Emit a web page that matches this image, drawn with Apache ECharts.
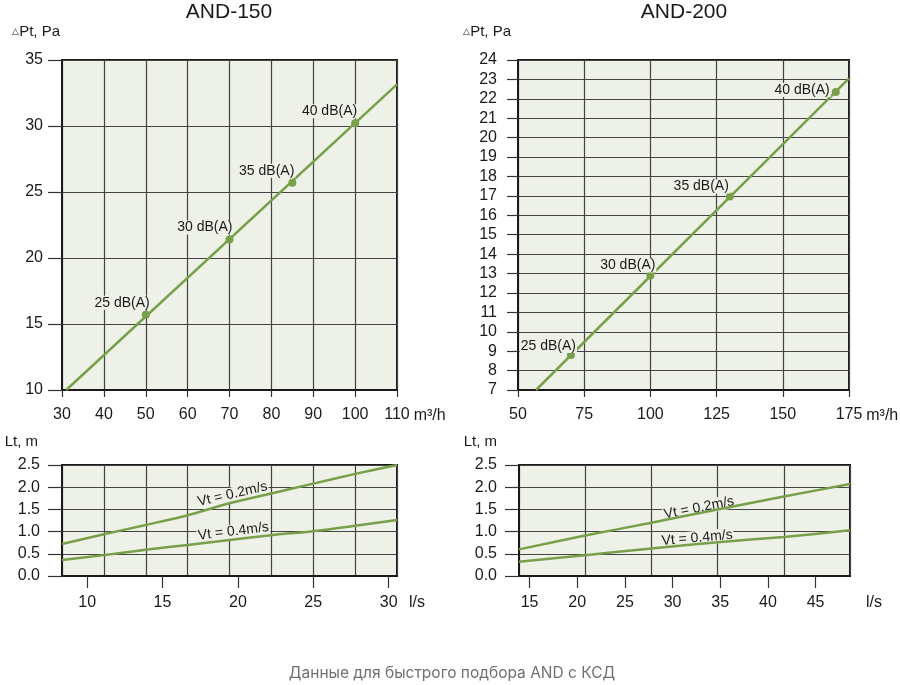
<!DOCTYPE html>
<html>
<head>
<meta charset="utf-8">
<script src="https://cdn.jsdelivr.net/npm/echarts@6/dist/echarts.min.js"></script>
<style>
	html, body { margin: 0; padding: 0; background: #fff; }
	#main { width: 900px; height: 685px; }
</style>
</head>
<body>
<div id="main"></div>
<script>
	// AND-150: pressure drop vs air flow (m3/h)
	var and150LineX = [31, 110];
	var and150LineY = [10, 33.15];
	var and150PointX = [50, 70, 85, 100];
	var and150PointY = [15.7, 21.4, 25.7, 30.2];

	// AND-200: pressure drop vs air flow (m3/h)
	var and200LineX = [56.8, 175];
	var and200LineY = [7, 23.05];
	var and200PointX = [70, 100, 130, 170];
	var and200PointY = [8.8, 12.9, 16.97, 22.35];

	var noiseLabels = ['25 dB(A)', '30 dB(A)', '35 dB(A)', '40 dB(A)'];

	// throw length Lt (m) vs flow (l/s)
	var and150Flow = [8.33, 11.11, 13.89, 16.67, 19.44, 22.22, 25, 27.78, 30.56];
	var and150Vt02 = [0.72, 0.94, 1.15, 1.37, 1.64, 1.86, 2.08, 2.30, 2.5];
	var and150Vt04 = [0.36, 0.47, 0.59, 0.70, 0.81, 0.92, 1.01, 1.13, 1.26];

	var and200Flow = [13.89, 20.83, 27.78, 34.72, 41.67, 48.61];
	var and200Vt02 = [0.60, 0.91, 1.20, 1.50, 1.79, 2.07];
	var and200Vt04 = [0.32, 0.47, 0.62, 0.76, 0.88, 1.03];

	var vtLabels = ['Vt = 0.2m/s', 'Vt = 0.4m/s'];

	// tick labels
	var and150LsTicks = [10, 15, 20, 25, 30];
	var and200LsTicks = [15, 20, 25, 30, 35, 40, 45];

	var GREEN = '#78a04a';
	var BG = '#eef1e7';
	var INK = '#1a1a1a';
	var FONT = '"Liberation Sans", Arial, sans-serif';

	function pairs(xs, ys) {
		var out = [];
		for (var i = 0; i < xs.length; i++) {
			out.push([xs[i], ys[i]]);
		}
		return out;
	}

	function grid(left, top, width, height) {
		return {
			left: left, top: top, width: width, height: height,
			show: true,
			backgroundColor: BG,
			borderColor: INK,
			borderWidth: 2
		};
	}

	function flowAxis(gridIndex, min, max, interval, nameGap) {
		return {
			type: 'value',
			gridIndex: gridIndex,
			min: min, max: max, interval: interval,
			name: 'm³/h',
			nameLocation: 'end',
			nameGap: nameGap,
			nameTextStyle: { color: INK, fontSize: 16, fontFamily: FONT, verticalAlign: 'top', padding: [18, 0, 0, 0] },
			axisLine: { lineStyle: { color: INK, width: 2 } },
			axisTick: { length: 7, lineStyle: { color: '#333', width: 1.2 } },
			axisLabel: { color: INK, fontSize: 16, fontFamily: FONT, margin: 17 },
			splitLine: { show: true, lineStyle: { color: '#444', width: 1.2 } }
		};
	}

	// m3/h grid lines behind the l/s charts
	function hiddenFlowAxis(gridIndex, min, max, interval) {
		return {
			type: 'value',
			gridIndex: gridIndex,
			position: 'top',
			min: min, max: max, interval: interval,
			axisLine: { show: false },
			axisTick: { show: false },
			axisLabel: { show: false },
			splitLine: { show: true, lineStyle: { color: '#444', width: 1.2 } }
		};
	}

	function lsAxis(gridIndex, min, max, ticks, nameGap) {
		return {
			type: 'value',
			gridIndex: gridIndex,
			min: min, max: max,
			name: 'l/s',
			nameLocation: 'end',
			nameGap: nameGap,
			nameTextStyle: { color: INK, fontSize: 16, fontFamily: FONT, verticalAlign: 'top', padding: [19, 0, 0, 0] },
			axisLine: { lineStyle: { color: INK, width: 2 } },
			axisTick: { length: 12, customValues: ticks, lineStyle: { color: '#333', width: 1.2 } },
			axisLabel: { color: INK, fontSize: 16, fontFamily: FONT, margin: 19, customValues: ticks },
			splitLine: { show: false }
		};
	}

	function valueAxis(gridIndex, min, max, interval, name, nameGap, padRight, tickLen, margin, digits) {
		return {
			type: 'value',
			gridIndex: gridIndex,
			min: min, max: max, interval: interval,
			name: name,
			nameLocation: 'end',
			nameGap: nameGap,
			nameTextStyle: {
				color: INK, fontSize: 15, fontFamily: FONT, align: 'right',
				padding: [0, padRight, 0, 0],
				rich: { s: { fontSize: 9, color: INK, fontFamily: FONT } }
			},
			axisLine: { show: true, lineStyle: { color: INK, width: 2 } },
			axisTick: { show: true, length: tickLen, lineStyle: { color: '#333', width: 1.2 } },
			axisLabel: {
				color: INK, fontSize: 16, fontFamily: FONT, margin: margin,
				formatter: function(v) { return digits ? v.toFixed(digits) : String(v); }
			},
			splitLine: { show: true, lineStyle: { color: '#444', width: 1.2 } }
		};
	}

	function pressureLine(xi, yi, lx, ly) {
		return {
			type: 'line',
			xAxisIndex: xi, yAxisIndex: yi,
			data: pairs(lx, ly),
			symbol: 'none',
			silent: true,
			lineStyle: { color: GREEN, width: 2.5 }
		};
	}

	function noisePoints(xi, yi, px, py, shifts) {
		var data = pairs(px, py).map(function(v, i) {
			return { value: v, label: { offset: shifts[i] } };
		});
		return {
			type: 'scatter',
			xAxisIndex: xi, yAxisIndex: yi,
			data: data,
			symbolSize: 8,
			silent: true,
			z: 4,
			itemStyle: { color: GREEN, opacity: 1 },
			label: {
				show: true,
				position: 'top',
				distance: 0,
				align: 'right',
				color: INK,
				fontSize: 14,
				fontFamily: FONT,
				backgroundColor: BG,
				padding: [0, 1],
				formatter: function(p) { return noiseLabels[p.dataIndex]; }
			}
		};
	}

	function throwLine(xi, yi, xs, ys) {
		return {
			type: 'line',
			xAxisIndex: xi, yAxisIndex: yi,
			data: pairs(xs, ys),
			symbol: 'none',
			smooth: 0.3,
			silent: true,
			z: 6,
			lineStyle: { color: GREEN, width: 2.5 }
		};
	}

	// curve name written along the line, anchored at one of its points
	function throwLabel(xi, yi, xs, ys, idx, text, rotate, offset) {
		return {
			type: 'scatter',
			xAxisIndex: xi, yAxisIndex: yi,
			data: [[xs[idx], ys[idx]]],
			symbolSize: 0,
			silent: true,
			z: 5,
			itemStyle: { color: GREEN, opacity: 1 },
			label: {
				show: true,
				formatter: text,
				position: 'inside',
				rotate: rotate,
				offset: offset,
				color: INK,
				opacity: 1,
				textBorderWidth: 0,
				fontSize: 14,
				fontFamily: FONT,
				backgroundColor: BG,
				padding: [0, 1]
			}
		};
	}

	var chart = echarts.init(document.getElementById('main'));

	var option = {
		animation: false,
		backgroundColor: '#fff',
		title: [
			{ text: 'AND-150', left: 224, top: -3, textAlign: 'center',
				textStyle: { fontSize: 21, fontWeight: 'normal', color: INK, fontFamily: FONT } },
			{ text: 'AND-200', left: 679, top: -3, textAlign: 'center',
				textStyle: { fontSize: 21, fontWeight: 'normal', color: INK, fontFamily: FONT } },
			{ text: 'Данные для быстрого подбора AND с КСД', left: 447, top: 660, textAlign: 'center',
				textStyle: { fontSize: 15.5, fontWeight: 'normal', color: '#707070', fontFamily: 'Inter, "Noto Sans", sans-serif' } }
		],
		grid: [
			grid(62, 60, 335, 330),
			grid(518, 60, 331, 330),
			grid(62, 465, 335, 111),
			grid(519, 465, 331, 111)
		],
		xAxis: [
			flowAxis(0, 30, 110, 10, 16),
			flowAxis(1, 50, 175, 25, 14),
			lsAxis(2, 30 / 3.6, 110 / 3.6, and150LsTicks, 12),
			hiddenFlowAxis(2, 30, 110, 10),
			lsAxis(3, 50 / 3.6, 175 / 3.6, and200LsTicks, 16),
			hiddenFlowAxis(3, 50, 175, 25)
		],
		yAxis: [
			valueAxis(0, 10, 35, 5, '{s|△}Pt, Pa', 21, 2, 14, 19, 0),
			valueAxis(1, 7, 24, 1, '{s|△}Pt, Pa', 21, 7, 11, 21, 0),
			valueAxis(2, 0, 2.5, 0.5, 'Lt, m', 16, 24, 14, 22, 1),
			valueAxis(3, 0, 2.5, 0.5, 'Lt, m', 16, 22, 14, 22, 1)
		],
		series: [
			pressureLine(0, 0, and150LineX, and150LineY),
			noisePoints(0, 0, and150PointX, and150PointY, [[5, -1], [4, -1], [3, -1], [3, -1]]),
			pressureLine(1, 1, and200LineX, and200LineY),
			noisePoints(1, 1, and200PointX, and200PointY, [[6, 2], [6, 1], [0, 1], [-5, 9]]),
			throwLine(2, 2, and150Flow, and150Vt02),
			throwLine(2, 2, and150Flow, and150Vt04),
			throwLine(4, 3, and200Flow, and200Vt02),
			throwLine(4, 3, and200Flow, and200Vt04),
			throwLabel(2, 2, and150Flow, and150Vt02, 4, vtLabels[0], 13, [5, -8]),
			throwLabel(2, 2, and150Flow, and150Vt04, 4, vtLabels[1], 7, [5, -8]),
			throwLabel(4, 3, and200Flow, and200Vt02, 3, vtLabels[0], 11, [-18, -5]),
			throwLabel(4, 3, and200Flow, and200Vt04, 3, vtLabels[1], 5, [-20, -6])
		]
	};

	chart.setOption(option);
</script>
</body>
</html>
